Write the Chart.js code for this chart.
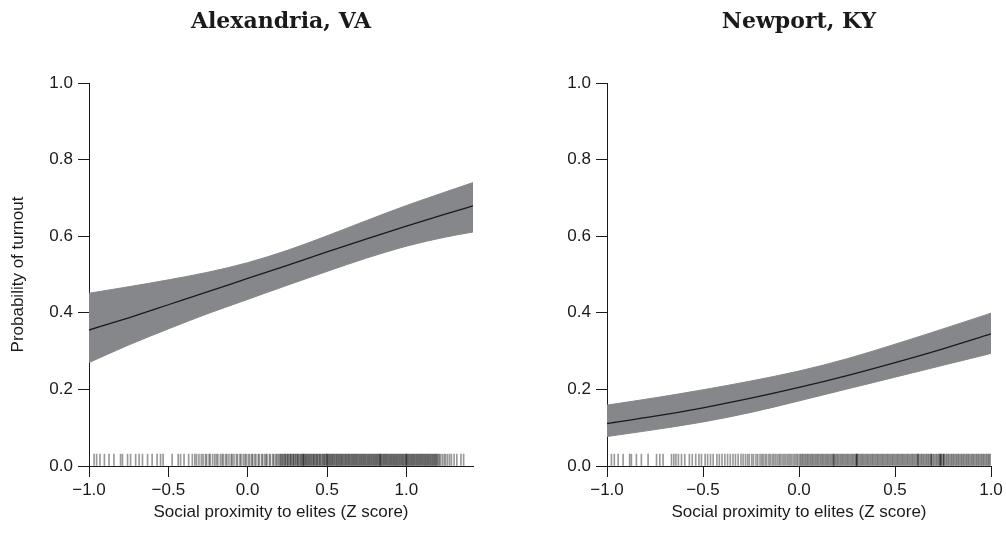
<!DOCTYPE html>
<html>
<head>
<meta charset="utf-8">
<script src="https://cdn.jsdelivr.net/npm/chart.js@4.4.1/dist/chart.umd.min.js"></script>
<style>
  body { margin: 0; background: #fff; }
  #wrap { position: relative; width: 1006px; height: 533px; }
  canvas { position: absolute; top: 0; }
</style>
</head>
<body>
<div id="wrap">
  <canvas id="alexandria" width="503" height="533" style="left:0"></canvas>
  <canvas id="newport" width="503" height="533" style="left:503px"></canvas>
</div>
<script>
const xTicks = [-1.0, -0.5, 0.0, 0.5, 1.0];
const yTicks = [0.0, 0.2, 0.4, 0.6, 0.8, 1.0];

// Alexandria, VA
const alexX     = [-1.0, -0.75, -0.5, -0.25, 0.0, 0.25, 0.5, 0.75, 1.0, 1.25, 1.42];
const alexMean  = [0.355, 0.387, 0.421, 0.455, 0.490, 0.524, 0.559, 0.593, 0.626, 0.658, 0.679];
const alexLower = [0.270, 0.316, 0.358, 0.398, 0.435, 0.472, 0.508, 0.543, 0.574, 0.598, 0.611];
const alexUpper = [0.451, 0.468, 0.486, 0.506, 0.531, 0.563, 0.601, 0.641, 0.680, 0.716, 0.740];
const alexRug = [
  -0.968, -0.952, -0.931, -0.903, -0.874, -0.843, -0.801, -0.789, -0.757, -0.738, -0.706, -0.684,
  -0.663, -0.631, -0.602, -0.571, -0.549, -0.533, -0.476, -0.438, -0.423, -0.401, -0.372, -0.349,
  -0.333, -0.322, -0.307, -0.292, -0.281, -0.266, -0.259, -0.243, -0.236, -0.221, -0.208, -0.197,
  -0.188, -0.172, -0.161, -0.153, -0.139, -0.131, -0.118, -0.104, -0.097, -0.086, -0.071, -0.064,
  -0.049, -0.042, -0.028, -0.017, -0.009, 0.004, 0.013, 0.026, 0.031, 0.044, 0.052, 0.067, 0.073,
  0.088, 0.094, 0.107, 0.116, 0.122, 0.137, 0.143, 0.158, 0.164, 0.176, 0.183, 0.192,
  0.201, 0.207, 0.212, 0.219, 0.224, 0.232, 0.236, 0.241, 0.249, 0.253, 0.258, 0.266, 0.271, 0.274,
  0.283, 0.288, 0.291, 0.299, 0.304, 0.311, 0.316, 0.319, 0.327, 0.333, 0.338, 0.344, 0.349, 0.352,
  0.354, 0.361, 0.366, 0.371, 0.377, 0.382, 0.388, 0.393, 0.399, 0.404, 0.411, 0.416, 0.419, 0.427,
  0.432, 0.438, 0.441, 0.449, 0.455, 0.458, 0.466, 0.472, 0.477, 0.483, 0.487, 0.494, 0.499, 0.501,
  0.506, 0.511, 0.517, 0.522, 0.528, 0.533, 0.538, 0.544, 0.549, 0.556, 0.561, 0.566, 0.572, 0.577,
  0.583, 0.589, 0.593, 0.599, 0.604, 0.611, 0.616, 0.621, 0.627, 0.633, 0.638, 0.643, 0.649, 0.655,
  0.660, 0.666, 0.671, 0.677, 0.682, 0.688, 0.693, 0.699, 0.705, 0.710, 0.716, 0.721, 0.727, 0.732,
  0.738, 0.743, 0.749, 0.755, 0.760, 0.766, 0.771, 0.777, 0.782, 0.788, 0.794, 0.799, 0.805, 0.810,
  0.816, 0.821, 0.827, 0.832, 0.835, 0.838, 0.843, 0.849, 0.855, 0.860, 0.866, 0.871, 0.877, 0.882,
  0.888, 0.894, 0.899, 0.905, 0.910, 0.916, 0.921, 0.927, 0.932, 0.938, 0.943, 0.949, 0.955, 0.960,
  0.966, 0.971, 0.977, 0.982, 0.988, 0.994, 0.998, 1.001, 1.004, 1.010, 1.015, 1.021, 1.027, 1.032,
  1.038, 1.043, 1.049, 1.054, 1.060, 1.066, 1.071, 1.077, 1.082, 1.088, 1.093, 1.099, 1.104, 1.110,
  1.116, 1.121, 1.127, 1.132, 1.138, 1.143, 1.149, 1.154, 1.160, 1.166, 1.171, 1.177, 1.182, 1.188,
  1.193, 1.199, 1.207, 1.214, 1.226, 1.238, 1.247, 1.259, 1.272, 1.284, 1.301, 1.318, 1.344, 1.361
];

// Newport, KY
const newX     = [-1.0, -0.75, -0.5, -0.25, 0.0, 0.25, 0.5, 0.75, 1.0];
const newMean  = [0.111, 0.130, 0.152, 0.177, 0.205, 0.236, 0.270, 0.306, 0.345];
const newLower = [0.077, 0.095, 0.115, 0.140, 0.170, 0.201, 0.232, 0.263, 0.294];
const newUpper = [0.159, 0.178, 0.199, 0.222, 0.248, 0.280, 0.318, 0.358, 0.399];
const newRug = [
  -0.977, -0.962, -0.942, -0.916, -0.882, -0.873, -0.847, -0.821, -0.786, -0.742, -0.725, -0.708,
  -0.664, -0.652, -0.641, -0.628, -0.612, -0.595, -0.571, -0.556, -0.538, -0.521, -0.508, -0.489,
  -0.476, -0.461, -0.447, -0.428, -0.415, -0.401, -0.386, -0.372, -0.358, -0.344, -0.331, -0.317,
  -0.302, -0.291, -0.279, -0.268, -0.259, -0.246, -0.237, -0.224, -0.215, -0.203, -0.194, -0.186,
  -0.176, -0.168, -0.157, -0.149, -0.139, -0.131, -0.122, -0.113, -0.104, -0.097, -0.088, -0.079,
  -0.071, -0.062, -0.054, -0.046, -0.038, -0.029, -0.021, -0.013, -0.006,
  0.003, 0.009, 0.016, 0.022, 0.029, 0.035, 0.042, 0.048, 0.055, 0.061, 0.068, 0.074, 0.081, 0.087,
  0.094, 0.100, 0.107, 0.113, 0.120, 0.126, 0.133, 0.139, 0.146, 0.152, 0.159, 0.165, 0.172, 0.178,
  0.181, 0.185, 0.191, 0.198, 0.204, 0.211, 0.217, 0.224, 0.230, 0.237, 0.243, 0.250, 0.256, 0.263,
  0.269, 0.276, 0.282, 0.289, 0.295, 0.299, 0.301, 0.302, 0.308, 0.315, 0.321, 0.328, 0.334, 0.341,
  0.347, 0.354, 0.360, 0.367, 0.373, 0.380, 0.386, 0.393, 0.399, 0.406, 0.412, 0.419, 0.425, 0.432,
  0.438, 0.445, 0.451, 0.458, 0.464, 0.471, 0.477, 0.484, 0.490, 0.497, 0.503, 0.510, 0.516, 0.523,
  0.529, 0.536, 0.542, 0.549, 0.555, 0.562, 0.568, 0.575, 0.581, 0.588, 0.594, 0.601, 0.607, 0.614,
  0.619, 0.621, 0.627, 0.634, 0.640, 0.647, 0.653, 0.660, 0.666, 0.673, 0.679, 0.686, 0.689, 0.691,
  0.699, 0.705, 0.712, 0.718, 0.725, 0.731, 0.735, 0.737, 0.739, 0.744, 0.751, 0.754, 0.756, 0.764,
  0.770, 0.777, 0.783, 0.790, 0.796, 0.803, 0.809, 0.816, 0.822, 0.829, 0.835, 0.842, 0.848, 0.855,
  0.861, 0.868, 0.874, 0.881, 0.887, 0.894, 0.900, 0.907, 0.913, 0.920, 0.926, 0.933, 0.939, 0.946,
  0.952, 0.959, 0.965, 0.972, 0.978, 0.985, 0.991, 0.997
];

const rugTop = 0.031;
const BAND = '#86878a';
const INK = '#1a1a1a';
const sans = { family: "'Liberation Sans', Arial, sans-serif", size: 17 };

function fmtX(v) {
  return (v < 0 ? '\u2212' : '') + Math.abs(v).toFixed(1);
}

function pts(xs, ys) {
  return xs.map((x, i) => ({ x: x, y: ys[i] }));
}

function makePanel(id, title, xs, mean, lower, upper, rug, xMax, yWidth, padRight, yTitle) {
  const ctx = document.getElementById(id).getContext('2d');
  const smooth = { pointRadius: 0, cubicInterpolationMode: 'monotone' };
  return new Chart(ctx, {
    type: 'line',
    data: {
      datasets: [
        { ...smooth, data: pts(xs, mean), borderColor: INK, borderWidth: 1.3, fill: false },
        { ...smooth, data: pts(xs, upper), borderColor: BAND, borderWidth: 1, fill: '+1', backgroundColor: BAND },
        { ...smooth, data: pts(xs, lower), borderColor: BAND, borderWidth: 1, fill: false },
        { type: 'bar', data: rug.map(x => ({ x: x, y: [0, rugTop] })),
          backgroundColor: 'rgba(0,0,0,0.4)', borderWidth: 0, barThickness: 1 }
      ]
    },
    options: {
      responsive: false,
      animation: false,
      devicePixelRatio: 1,
      layout: { padding: { left: 0, right: padRight, top: 0, bottom: 0 } },
      scales: {
        x: {
          type: 'linear', min: -1, max: xMax, offset: false,
          afterBuildTicks: a => { a.ticks = xTicks.map(v => ({ value: v })); },
          afterFit: s => { s.height = 67; },
          ticks: { callback: fmtX, font: sans, color: INK, padding: 3, maxRotation: 0, autoSkip: false },
          grid: { drawOnChartArea: false, tickLength: 11, color: INK, offset: false },
          border: { color: INK, width: 1 },
          title: { display: true, text: 'Social proximity to elites (Z score)', font: sans, color: INK,
                   padding: { top: 0, bottom: 10 } }
        },
        y: {
          type: 'linear', min: 0, max: 1,
          afterBuildTicks: a => { a.ticks = yTicks.map(v => ({ value: v })); },
          afterFit: s => { s.width = yWidth; },
          ticks: { callback: v => v.toFixed(1), font: sans, color: INK, padding: 5 },
          grid: { drawOnChartArea: false, tickLength: 11, color: INK },
          border: { color: INK, width: 1 },
          title: { display: yTitle, text: 'Probability of turnout', font: sans, color: INK,
                   padding: { top: 8, bottom: 0 } }
        }
      },
      plugins: {
        legend: { display: false },
        tooltip: { enabled: false },
        title: {
          display: true, text: title, fullSize: false, color: INK,
          font: { family: "'DejaVu Serif', serif", size: 22, weight: 'bold' },
          padding: { top: 9, bottom: 47.6 }
        }
      }
    }
  });
}

makePanel('alexandria', 'Alexandria, VA', alexX, alexMean, alexLower, alexUpper, alexRug, 1.42, 89, 30, true);
makePanel('newport', 'Newport, KY', newX, newMean, newLower, newUpper, newRug, 1.0, 104, 15, false);
</script>
</body>
</html>
